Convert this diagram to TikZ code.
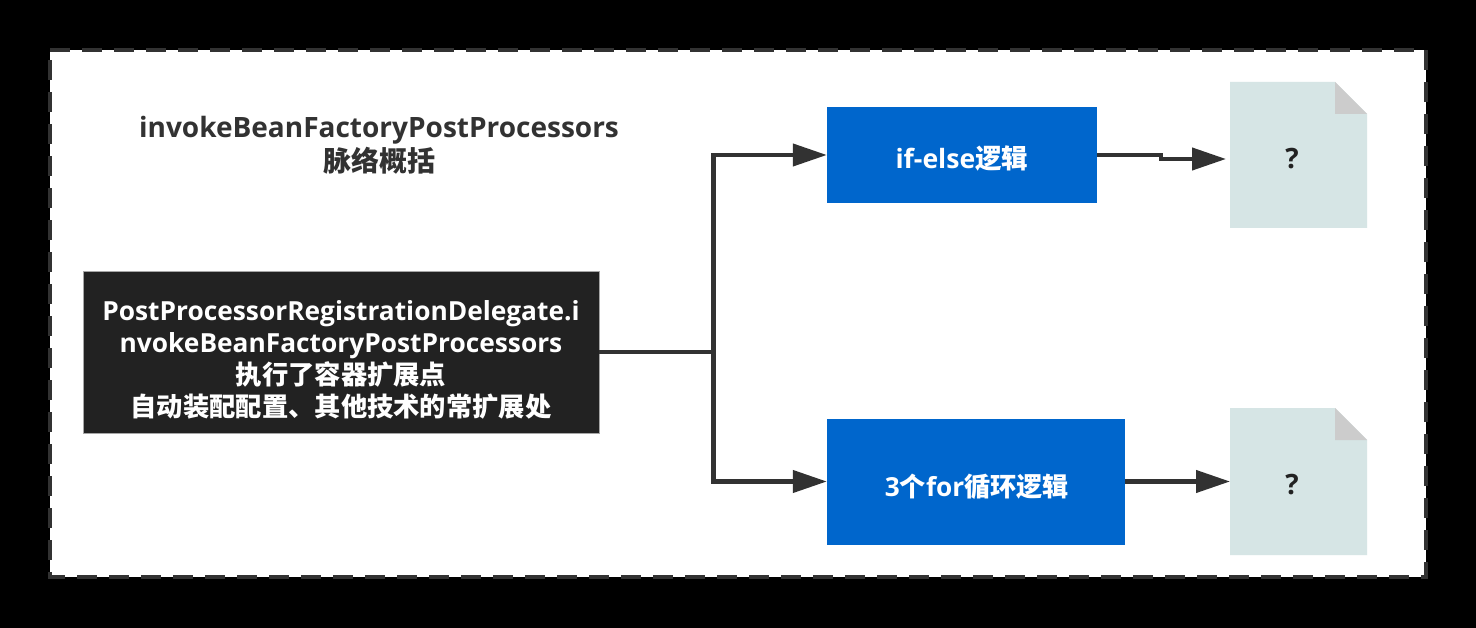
\documentclass[tikz,border=0pt]{standalone}
\usepackage{fontspec}
\setmainfont{Open Sans}[BoldFont={Open Sans Bold}]
\newfontfamily\cjkbold{Noto Sans CJK SC Bold}
\usetikzlibrary{arrows.meta}
\definecolor{inkdark}{HTML}{323232}
\definecolor{boxdark}{HTML}{222222}
\definecolor{boxblue}{HTML}{0066CC}
\definecolor{pagegreen}{HTML}{D6E5E5}
\definecolor{foldgrey}{HTML}{CCCCCC}
\definecolor{titleink}{HTML}{323232}
\newcommand{\zh}[1]{{\cjkbold #1}}
% invisible strut that lowers a centred label inside its box
\newcommand{\lowered}[1]{\rule{0pt}{#1}}
\tikzset{
  x=1pt,y=-1pt,
  frameline/.style={draw=inkdark,line width=4pt,dash pattern=on 20pt off 12pt},
  link/.style={draw=inkdark,line width=4.2pt},
  linkarrow/.style={link,-{Triangle[length=34pt,width=22pt]}},
  bluebox/.style={fill=boxblue,inner sep=0pt,text=white,font=\bfseries\fontsize{26.6}{30}\selectfont,align=center},
  darkbox/.style={fill=boxdark,draw=gray!70,line width=.8pt,inner sep=0pt,text=white,font=\bfseries\fontsize{26.3}{32}\selectfont,align=center},
  mark text/.style={text=boxdark,font=\bfseries\fontsize{28}{30}\selectfont},
  heading/.style={text=titleink,font=\bfseries\fontsize{28}{34}\selectfont,align=center},
}
\begin{document}
\begin{tikzpicture}
\useasboundingbox (0,0) rectangle (1476,628);
\fill[black] (0,0) rectangle (1476,628);
% page frame
\fill[white] (50,50) rectangle (1426,577);
\draw[frameline] (50,50) -- (1426,50) -- (1426,577) -- (50,577) -- cycle;
% heading
\node[heading] (title) at (379,145) {invokeBeanFactoryPostProcessors\\\zh{脉络概括}};
% boxes
\node[darkbox,minimum width=516pt,minimum height=162pt] (main) at (341,352)
  {\lowered{36pt}PostProcessorRegistrationDelegate.i\\nvokeBeanFactoryPostProcessors\\\zh{执行了容器扩展点}\\\zh{自动装配配置、其他技术的常扩展处}};
\node[bluebox,minimum width=270pt,minimum height=96pt] (ifelse) at (962,155) {\lowered{30pt}if-else\zh{逻辑}};
\node[bluebox,minimum width=298pt,minimum height=126pt,font=\bfseries\fontsize{26.2}{30}\selectfont] (forloop) at (976,481.5) {\lowered{32pt}\hspace{2pt}3\zh{个}for\zh{循环逻辑}};
% document icons
\fill[pagegreen] (1230,82) -- (1335,82) -- (1367,114) -- (1367,228) -- (1230,228) -- cycle;
\fill[foldgrey] (1335,82) -- (1367,114) -- (1335,114) -- cycle;
\node[mark text] (docA) at (1292,159) {?};
\fill[pagegreen] (1230,408) -- (1335,408) -- (1367,440) -- (1367,555) -- (1230,555) -- cycle;
\fill[foldgrey] (1335,408) -- (1367,440) -- (1335,440) -- cycle;
\node[mark text] (docB) at (1292,485) {?};
% connectors
\coordinate (junction) at (713.5,352);
\coordinate (stepA) at (1161,155);
\coordinate (stepB) at (1161,159);
\coordinate (docAin) at (1226,159);
\coordinate (docBin) at (1230,481.5);
\draw[link] (main.east) -- (junction);
\draw[linkarrow] (junction) |- (ifelse.west);
\draw[linkarrow] (junction) |- (forloop.west);
\draw[linkarrow] (ifelse.east) -- (stepA) -- (stepB) -- (docAin);
\draw[linkarrow] (forloop.east) -- (docBin);
\end{tikzpicture}
\end{document}
